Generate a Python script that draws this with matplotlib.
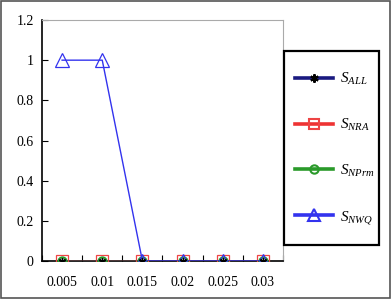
import matplotlib
matplotlib.use("Agg")
import matplotlib.pyplot as plt
from matplotlib.patches import Rectangle

plt.rcParams['font.family'] = ['Liberation Serif', 'DejaVu Serif']
plt.rcParams['mathtext.fontset'] = 'custom'
plt.rcParams['mathtext.rm'] = 'Liberation Serif'
plt.rcParams['mathtext.it'] = 'Liberation Serif:italic'

categories = ['0.005', '0.01', '0.015', '0.02', '0.025', '0.03']
s_all = [0, 0, 0, 0, 0, 0]
s_nra = [0, 0, 0, 0, 0, 0]
s_nprm = [0, 0, 0, 0, 0, 0]
s_nwq = [1, 1, 0, 0, 0, 0]
labels = [r'$S_{ALL}$', r'$S_{NRA}$', r'$S_{NPrm}$', r'$S_{NWQ}$']

W, H = 391, 299
fig = plt.figure(figsize=(W/100, H/100), dpi=100)
ax = fig.add_axes([42/W, 1-261/H, 241/W, 241/H])
x = range(len(categories))

h1, = ax.plot(x, s_all, color='#1a1a80', lw=1, marker=(6, 2, 0), ms=5, mec='black', mew=1, zorder=5)
h2, = ax.plot(x, s_nra, color='#ee3333', lw=1, marker='s', ms=9, mfc='none', mec='#ee4444', mew=0.9, zorder=3)
h3, = ax.plot(x, s_nprm, color='#8a9a20', lw=1, marker='o', ms=6, mfc='none', mec='#2a9a2a', mew=1.4, zorder=4)
h4, = ax.plot(x, s_nwq, color='#3333ee', lw=1, marker='^', ms=10, mfc='none', mec='#3333ee', mew=0.9, zorder=4)

ax.set_xlim(-0.5, 5.5)
ax.set_ylim(0, 1.2)
ax.set_yticks([0, 0.2, 0.4, 0.6, 0.8, 1.0, 1.2])
ax.set_yticklabels(['0', '0.2', '0.4', '0.6', '0.8', '1', '1.2'])
ax.set_xticks(list(x))
ax.set_xticklabels(categories)
ax.set_xticks([i + 0.5 for i in range(-1, 6)], minor=True)
ax.tick_params(axis='x', which='major', length=0, labelsize=10, pad=11)
ax.tick_params(axis='x', which='minor', direction='in', length=4, width=0.8)
ax.tick_params(axis='y', direction='in', length=4, width=0.8, labelsize=10, pad=6)
for s in ['top', 'right']:
    ax.spines[s].set_color('#aaaaaa')
    ax.spines[s].set_linewidth(0.8)
for s in ['left', 'bottom']:
    ax.spines[s].set_color('black')
    ax.spines[s].set_linewidth(1.2)

# legend frame drawn separately
fig.patches.append(Rectangle((284/W, 1-245/H), 95/W, 194/H, transform=fig.transFigure,
                             fill=False, edgecolor='black', lw=1.6))
leg = fig.legend([h1, h2, h3, h4], labels, loc='upper left',
                 bbox_to_anchor=(295/W, 1-71/H), frameon=False,
                 fontsize=11, labelspacing=1.95,
                 handlelength=2.5, borderpad=0, handletextpad=0.45,
                 borderaxespad=0)
leg_cols = ['#1a1a80', '#ee3333', '#2a9a2a', '#3333ee']
leg_ms = [6, 7, 6, 9]
for ln, c, m in zip(leg.get_lines(), leg_cols, leg_ms):
    ln.set_linewidth(2.6)
    ln.set_color(c)
    ln.set_markersize(m)
    ln.set_markeredgewidth(1.5)

fig.patches.append(Rectangle((0.002, 0.003), 0.996, 0.994, transform=fig.transFigure,
                             fill=False, edgecolor='#555555', lw=1.2))
fig.savefig('out.png', dpi=100)
